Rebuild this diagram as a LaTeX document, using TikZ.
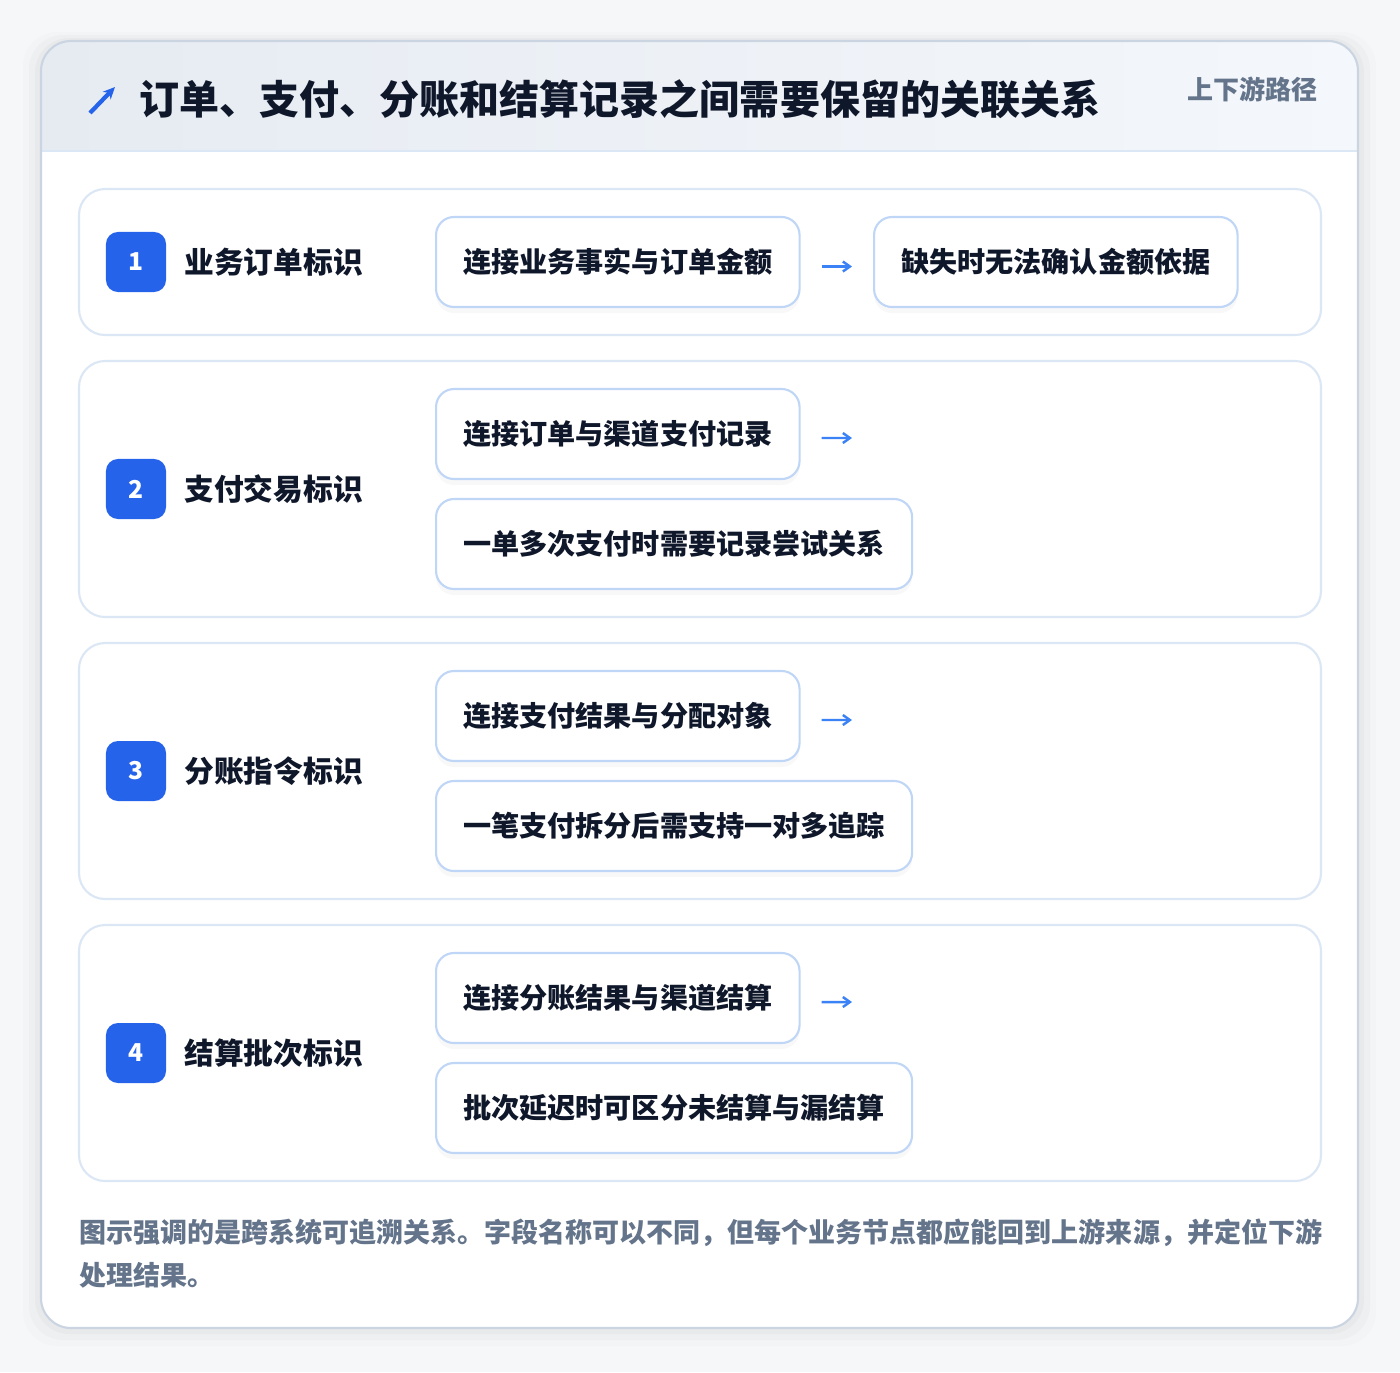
\documentclass[tikz,border=0pt]{standalone}
\usepackage{fontspec}
\setmainfont{Noto Sans CJK SC}
\usetikzlibrary{positioning,shadows,arrows.meta}

\definecolor{pagebg}{HTML}{F6F7F9}
\definecolor{cardline}{HTML}{CBD5E1}
\definecolor{headl}{HTML}{E6EBF2}
\definecolor{headr}{HTML}{F4F7FB}
\definecolor{rowline}{HTML}{DCE7F5}
\definecolor{boxline}{HTML}{BFD6F6}
\definecolor{accent}{HTML}{2563EB}
\definecolor{flowc}{HTML}{3B82F6}
\definecolor{ink}{HTML}{0F172A}
\definecolor{muted}{HTML}{64748B}

\tikzset{
    rowbox/.style={draw=rowline, line width=0.6pt, fill=white, rounded corners=0.26cm},
    badge/.style={fill=accent, text=white, rounded corners=0.12cm, minimum size=0.6cm,
        inner sep=0pt, font=\bfseries\fontsize{7}{7}\selectfont},
    rowlabel/.style={anchor=west, inner sep=0pt, text=ink, font=\bfseries\fontsize{8.45}{9}\selectfont},
    linkbox/.style={draw=boxline, line width=0.6pt, fill=white, rounded corners=0.18cm,
        minimum height=0.9cm, inner xsep=0.27cm, inner ysep=0pt, anchor=west, text=ink,
        font=\bfseries\fontsize{8}{8}\selectfont,
        drop shadow={opacity=0.05, shadow xshift=0pt, shadow yshift=-0.06cm}},
    flow/.style={draw=flowc, line width=0.7pt, -{Straight Barb[length=0.07cm, width=0.1cm]}},
    note/.style={anchor=west, inner sep=0pt, text=muted, font=\bfseries\fontsize{7.68}{8}\selectfont}
}

\begin{document}
\begin{tikzpicture}[x=0.01cm, y=-0.01cm]
\fill[pagebg] (0,0) rectangle (1400,1372);
\useasboundingbox (0,0) rectangle (1400,1372);

% card and its soft shadow
\foreach \s/\o in {18/0.012, 12/0.018, 6/0.025} {
    \fill[black, opacity=\o, rounded corners=0.34cm] (41-\s,41-\s/2) rectangle (1358+\s,1328+\s);
}
\fill[white, rounded corners=0.3cm] (41,41) rectangle (1358,1328);
\begin{scope}
    \clip[rounded corners=0.3cm] (41,41) rectangle (1358,1328);
    \shade[left color=headl, right color=headr] (41,41) rectangle (1358,151);
\end{scope}
\draw[rowline, line width=0.6pt] (41,151) -- (1358,151);
\draw[cardline, line width=0.6pt, rounded corners=0.3cm] (41,41) rectangle (1358,1328);

% header
\draw[accent, line width=1.2pt, -{Stealth[length=0.12cm, width=0.11cm]}] (90,113) -- (115,87);
\node[anchor=west, inner sep=0pt, text=ink, font=\bfseries\fontsize{11.38}{12}\selectfont]
    (title) at (139,99) {订单、支付、分账和结算记录之间需要保留的关联关系};
\node[anchor=east, inner sep=0pt, text=muted, font=\bfseries\fontsize{7.4}{8}\selectfont]
    (route) at (1318,89) {上下游路径};

% rows
\foreach \n/\top/\bot/\lab in {1/189/335/业务订单标识, 2/361/617/支付交易标识,
        3/643/899/分账指令标识, 4/925/1181/结算批次标识} {
    \draw[rowbox] (79,\top) rectangle (1321,\bot);
    \node[badge] (badge\n) at (136,{(\top+\bot)/2}) {\n};
    \node[rowlabel, right=0.17cm of badge\n] (label\n) {\lab};
}

% row 1
\node[linkbox] (link1) at (435,262) {连接业务事实与订单金额};
\node[linkbox] (miss1) at (873,262) {缺失时无法确认金额依据};
\draw[flow] ([xshift=0.21cm, yshift=-0.045cm]link1.east) -- ([xshift=-0.21cm, yshift=-0.045cm]miss1.west);

% rows 2 to 4
\foreach \n/\y/\txta/\txtb in {2/434/连接订单与渠道支付记录/一单多次支付时需要记录尝试关系,
        3/716/连接支付结果与分配对象/一笔支付拆分后需支持一对多追踪,
        4/998/连接分账结果与渠道结算/批次延迟时可区分未结算与漏结算} {
    \node[linkbox] (link\n) at (435,\y) {\txta};
    \node[linkbox] (hint\n) at (435,\y+110) {\txtb};
    \coordinate (next\n) at (852,\y+4);
    \draw[flow] ([xshift=0.21cm, yshift=-0.04cm]link\n.east) -- (next\n);
}

% footnote
\node[note] (note1) at (79,1233) {图示强调的是跨系统可追溯关系。字段名称可以不同，但每个业务节点都应能回到上游来源，并定位下游};
\node[note] (note2) at (79,1275) {处理结果。};
\end{tikzpicture}
\end{document}
